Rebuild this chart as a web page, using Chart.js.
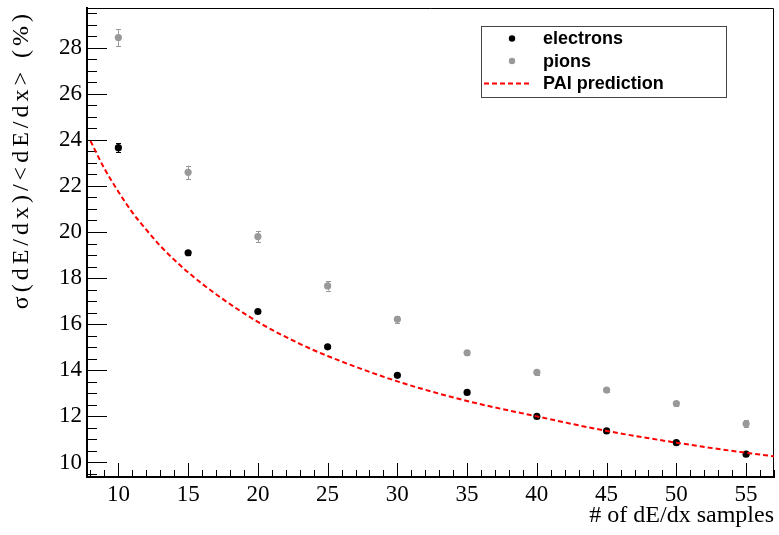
<!DOCTYPE html>
<html>
<head>
<meta charset="utf-8">
<script src="https://cdn.jsdelivr.net/npm/chart.js@4/dist/chart.umd.min.js"></script>
<style>
  html, body { margin: 0; padding: 0; background: #fff; }
  #c { display: block; }
</style>
</head>
<body>
<canvas id="c" width="779" height="535"></canvas>
<script>
// Number of dE/dx samples used in the truncated mean
const samples = [10, 15, 20, 25, 30, 35, 40, 45, 50, 55];

// Relative dE/dx resolution (%) and statistical errors
const electronSigma = [23.66, 19.10, 16.55, 15.02, 13.78, 13.04, 12.00, 11.37, 10.86, 10.36];
const electronErr   = [0.20, 0.08, 0.06, 0.05, 0.05, 0.05, 0.05, 0.05, 0.05, 0.05];
const pionSigma     = [28.44, 22.59, 19.80, 17.66, 16.21, 14.76, 13.91, 13.14, 12.56, 11.68];
const pionErr       = [0.37, 0.29, 0.25, 0.20, 0.15, 0.10, 0.10, 0.10, 0.10, 0.15];

// PAI model prediction sampled along the curve
const paiN     = [8, 9, 10, 11, 12, 13, 14, 15, 17, 20, 23, 25, 30, 35, 40, 45, 50, 55, 57];
const paiSigma = [23.95, 22.75, 21.75, 20.85, 20.10, 19.40, 18.80, 18.25, 17.30, 16.10, 15.15, 14.62, 13.52, 12.67, 12.00, 11.37, 10.86, 10.42, 10.27];

// Axis ranges and labels
const xRange = [7.75, 57.0];
const yRange = [9.37, 29.72];
const xTitle = '# of dE/dx samples';
const yTitle = 'σ(dE/dx)/<dE/dx> (%)';
const seriesLabels = ['electrons', 'pions', 'PAI prediction'];

const SERIF = '"Liberation Serif", "Times New Roman", serif';
const pts = (xs, ys) => xs.map((x, i) => ({ x: x, y: ys[i] }));

// Inward tick marks, frame and error bars drawn with the chart's own scales
const frameAndBars = {
  id: 'frameAndBars',
  beforeDatasetsDraw(chart) {
    const { ctx, chartArea: a, scales: { x, y } } = chart;
    ctx.save();
    ctx.strokeStyle = '#000';
    ctx.lineWidth = 1;
    ctx.beginPath();
    // y ticks: major every 2, minor every 0.5
    for (let v = 9.5; v <= yRange[1] + 1e-9; v += 0.5) {
      const py = Math.round(y.getPixelForValue(v)) + 0.5;
      const major = Math.abs(v / 2 - Math.round(v / 2)) < 1e-6;
      ctx.moveTo(a.left, py);
      ctx.lineTo(a.left + (major ? 20 : 10), py);
    }
    // x ticks: major every 5, minor every 1
    for (let v = 8; v <= xRange[1] + 1e-9; v += 1) {
      const px = Math.round(x.getPixelForValue(v)) + 0.5;
      const major = v % 5 === 0;
      ctx.moveTo(px, a.bottom);
      ctx.lineTo(px, a.bottom - (major ? 14 : 7));
    }
    ctx.stroke();
    // top and right frame
    ctx.beginPath();
    ctx.moveTo(a.left, a.top + 0.5);
    ctx.lineTo(a.right - 0.5, a.top + 0.5);
    ctx.lineTo(a.right - 0.5, a.bottom);
    ctx.stroke();

    // error bars
    const drawErr = (vals, errs, color) => {
      ctx.strokeStyle = color;
      ctx.lineWidth = 1;
      ctx.beginPath();
      samples.forEach((n, i) => {
        const px = Math.round(x.getPixelForValue(n)) + 0.5;
        const top = y.getPixelForValue(vals[i] + errs[i]);
        const bot = y.getPixelForValue(vals[i] - errs[i]);
        ctx.moveTo(px, top); ctx.lineTo(px, bot);
        ctx.moveTo(px - 2.5, Math.round(top) + 0.5); ctx.lineTo(px + 2.5, Math.round(top) + 0.5);
        ctx.moveTo(px - 2.5, Math.round(bot) + 0.5); ctx.lineTo(px + 2.5, Math.round(bot) + 0.5);
      });
      ctx.stroke();
    };
    drawErr(pionSigma, pionErr, '#999999');
    drawErr(electronSigma, electronErr, '#000000');
    ctx.restore();
  }
};

// Boxed legend in the upper right and the rotated y-axis title
const boxLegend = {
  id: 'boxLegend',
  afterDraw(chart) {
    const { ctx, chartArea: a } = chart;
    const ds = chart.data.datasets;
    const bx = 481, by = 26, bw = 245, bh = 71;
    ctx.save();
    ctx.fillStyle = '#fff';
    ctx.fillRect(bx, by, bw, bh);
    ctx.strokeStyle = '#444';
    ctx.lineWidth = 1;
    ctx.strokeRect(bx + 0.5, by + 0.5, bw, bh);
    ctx.font = 'bold 18px "Liberation Sans", Arial, sans-serif';
    ctx.textBaseline = 'middle';
    ctx.textAlign = 'left';
    const rows = [38.5, 61, 83.5];
    const order = [1, 2, 0]; // electrons, pions, PAI
    order.forEach((di, r) => {
      const d = ds[di];
      const cy = rows[r];
      if (d.showLine) {
        ctx.strokeStyle = d.borderColor;
        ctx.lineWidth = d.borderWidth;
        ctx.setLineDash(d.borderDash);
        ctx.beginPath();
        ctx.moveTo(484, cy); ctx.lineTo(531, cy);
        ctx.stroke();
        ctx.setLineDash([]);
      } else {
        ctx.fillStyle = d.backgroundColor;
        ctx.beginPath();
        ctx.arc(512, cy, 3.2, 0, Math.PI * 2);
        ctx.fill();
      }
      ctx.fillStyle = '#000';
      ctx.fillText(d.label, 543, cy + 1);
    });
    ctx.restore();

    // y-axis title, right-aligned to the top of the frame
    ctx.save();
    ctx.translate(28, a.top + 2);
    ctx.rotate(-Math.PI / 2);
    ctx.font = '24px ' + SERIF;
    ctx.letterSpacing = '4px';
    ctx.fillStyle = '#000';
    ctx.textAlign = 'right';
    ctx.textBaseline = 'alphabetic';
    ctx.fillText(yTitle, 0, 0);
    ctx.restore();
  }
};

new Chart(document.getElementById('c'), {
  type: 'scatter',
  data: {
    datasets: [
      {
        type: 'line',
        label: seriesLabels[2],
        data: pts(paiN, paiSigma),
        showLine: true,
        borderColor: '#ff0000',
        borderWidth: 2,
        borderDash: [5, 3],
        pointRadius: 0,
        fill: false,
        cubicInterpolationMode: 'monotone',
        order: 0
      },
      {
        label: seriesLabels[0],
        data: pts(samples, electronSigma),
        backgroundColor: '#000000',
        borderWidth: 0,
        pointRadius: 3.6,
        order: 1
      },
      {
        label: seriesLabels[1],
        data: pts(samples, pionSigma),
        backgroundColor: '#999999',
        borderWidth: 0,
        pointRadius: 3.6,
        order: 2
      }
    ]
  },
  options: {
    responsive: false,
    animation: false,
    devicePixelRatio: 1,
    layout: { padding: { top: 8, right: 5, left: 0, bottom: 0 } },
    plugins: { legend: { display: false }, tooltip: { enabled: false } },
    scales: {
      x: {
        type: 'linear',
        min: xRange[0], max: xRange[1],
        grid: { display: false, drawTicks: false },
        border: { display: true, color: '#000', width: 2 },
        ticks: {
          stepSize: 5, includeBounds: false, padding: 4, color: '#000',
          font: { family: SERIF, size: 23 }
        },
        title: {
          display: true, text: xTitle, align: 'end', color: '#000',
          font: { family: SERIF, size: 24 },
          padding: { top: 0, bottom: 5 }
        },
        afterFit(s) {
          s.height = 58;
          s.paddingLeft = 0; s.paddingRight = 0;
        }
      },
      y: {
        type: 'linear',
        min: yRange[0], max: yRange[1],
        grid: { display: false, drawTicks: false },
        border: { display: true, color: '#000', width: 2 },
        ticks: {
          stepSize: 2, includeBounds: false, padding: 5, color: '#000',
          font: { family: SERIF, size: 23 }
        },
        title: { display: false },
        afterFit(s) {
          s.width = 87;
          s.paddingTop = 0; s.paddingBottom = 0;
        }
      }
    }
  },
  plugins: [frameAndBars, boxLegend]
});
</script>
</body>
</html>
